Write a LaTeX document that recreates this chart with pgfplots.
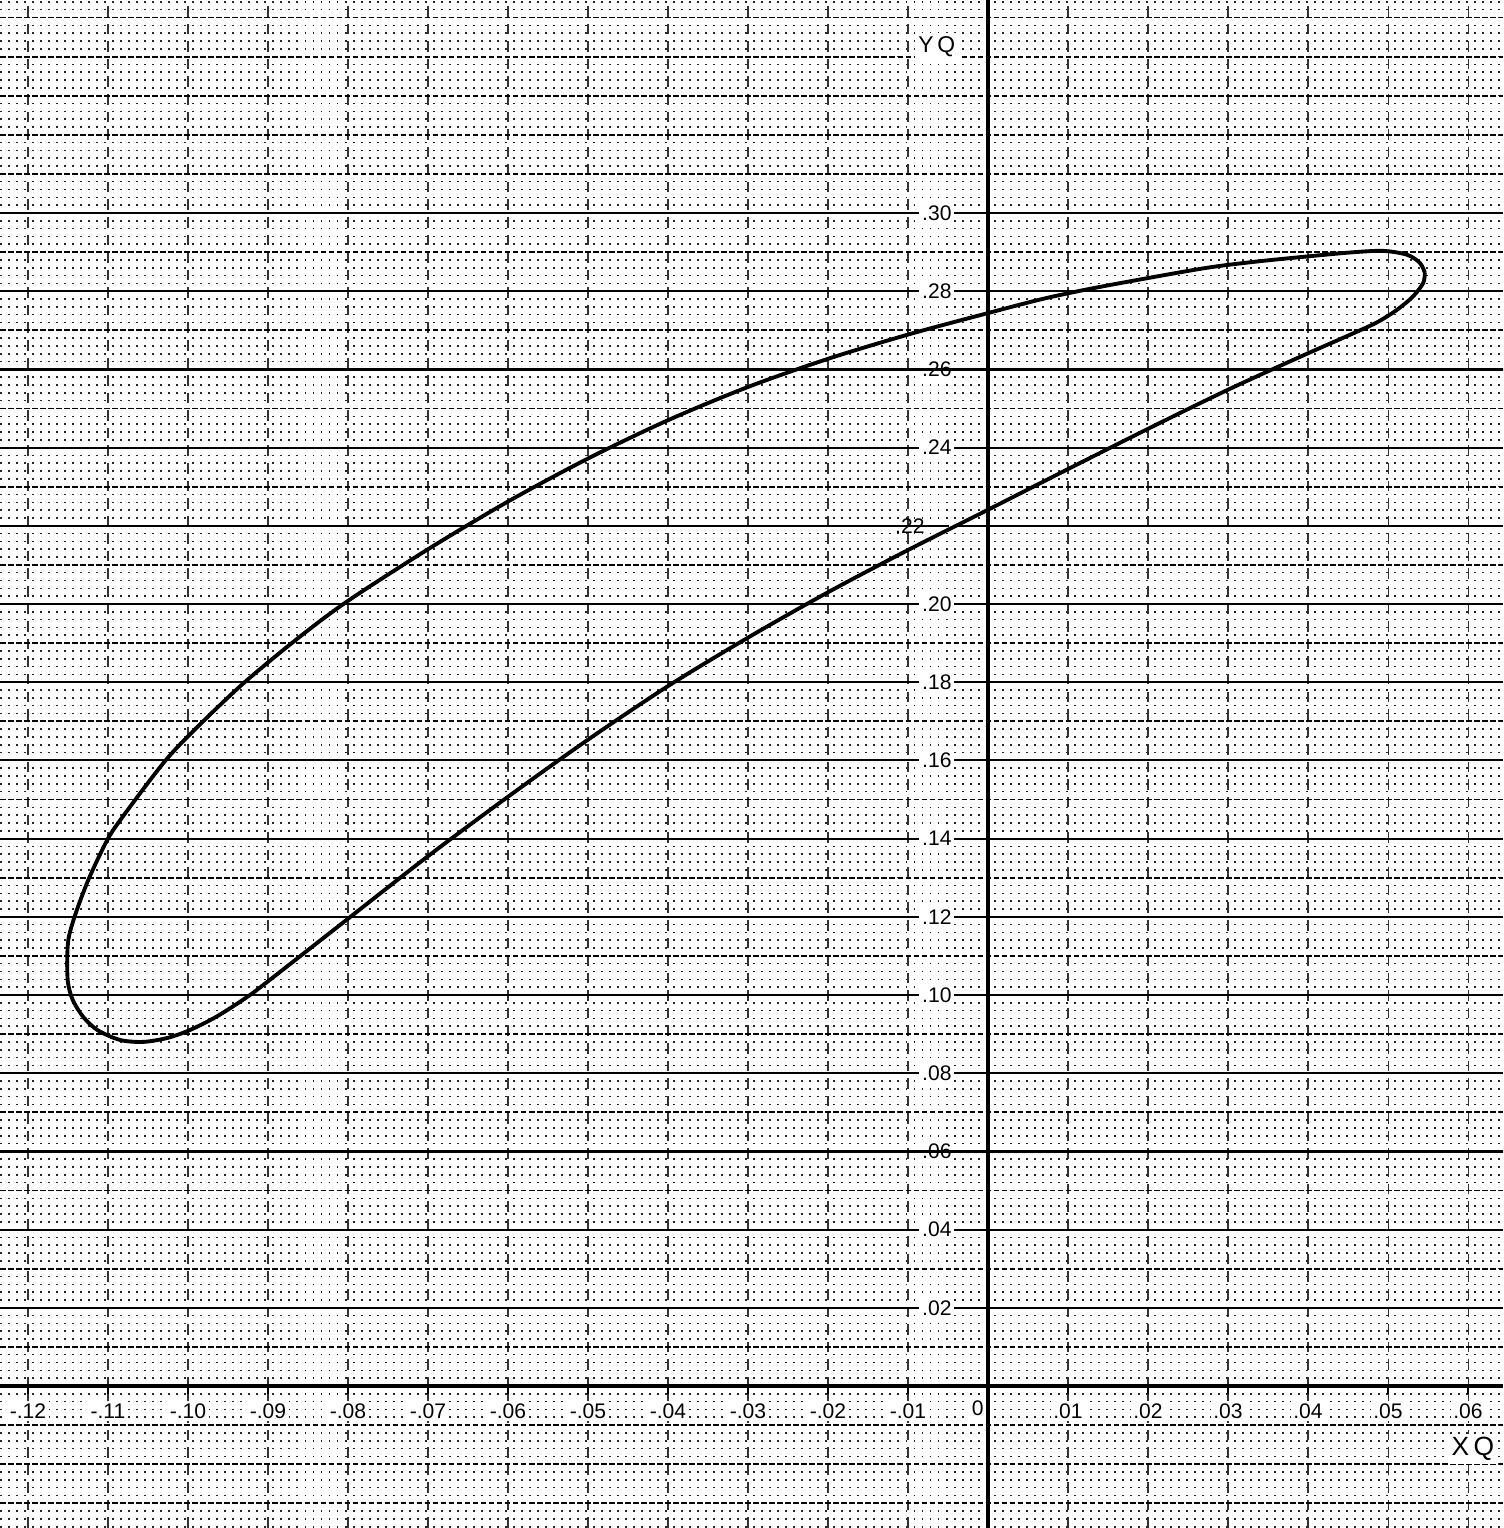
\documentclass[border=0pt]{standalone}
\usepackage{pgfplots}
\pgfplotsset{compat=1.18}
\usepackage{fontspec}
\setmainfont{Liberation Sans}
\begin{document}
\begin{tikzpicture}
\begin{axis}[
  scale only axis, width=150.3mm, height=152.8mm,
  at={(0,0)}, anchor=south west,
  xmin=-0.1235, xmax=0.064375, ymin=-0.03632, ymax=0.35448,
  axis lines=middle,
  axis line style={line width=0.9pt, -},
  xtick={-0.12,-0.11,-0.10,-0.09,-0.08,-0.07,-0.06,-0.05,-0.04,-0.03,-0.02,-0.01,0,0.01,0.02,0.03,0.04,0.05,0.06},
  xticklabels={-.12,-.11,-.10,-.09,-.08,-.07,-.06,-.05,-.04,-.03,-.02,-.01,0,.01,.02,.03,.04,.05,.06},
  ytick={0.02,0.04,0.06,0.08,0.10,0.12,0.14,0.16,0.18,0.20,0.22,0.24,0.26,0.28,0.30},
  yticklabels={.02,.04,.06,.08,.10,.12,.14,.16,.18,.20,\hbox to 0pt{\hss .22\kern 2.7mm},.24,.26,.28,.30},
  minor ytick={-0.036,-0.034,...,0.354},
  tick align=outside, major tick length=0.8mm, minor tick length=0pt,
  tick style={black, line width=0.6pt},
  grid=both,
  major x grid style={black!80, line width=0.3pt, dash pattern=on 3pt off 2pt},
  major y grid style={black, line width=0.55pt},
  minor y grid style={black!85, line width=0.45pt, dash pattern=on 0.55pt off 1.73pt},
  extra y ticks={-0.03,-0.02,-0.01,0.01,0.03,0.05,0.07,0.09,0.11,0.13,0.15,0.17,0.19,0.21,0.23,0.25,0.27,0.29,0.31,0.32,0.33,0.34,0.35},
  extra y tick labels={},
  extra y tick style={major tick length=0pt, grid=major, yticklabel style={fill=none}, major grid style={black!85, line width=0.45pt, dash pattern=on 1.6pt off 0.68pt}},
  ticklabel style={font=\fontsize{6}{7}\selectfont, fill=white, inner sep=0.8pt},
  xticklabel style={anchor=north, yshift=-0.6mm},
  yticklabel style={anchor=east, xshift=-2.5mm},
]
\addplot[black, line width=1pt, forget plot] coordinates {(-0.13,0.26) (0.07,0.26)};
\addplot[black, line width=1pt, forget plot] coordinates {(-0.13,0.06) (0.07,0.06)};
\addplot[black, line width=1.1pt, smooth, tension=0.5] coordinates {
(0.0546,0.2847) (0.0540,0.2872) (0.0524,0.2893) (0.0494,0.2903) (0.0453,0.2899)
(0.0390,0.2887) (0.0328,0.2874) (0.0265,0.2857) (0.0140,0.2811) (0.0070,0.2781)
(0.0,0.2744) (-0.01,0.2689) (-0.02,0.2627) (-0.03,0.2555) (-0.04,0.2470)
(-0.05,0.2372) (-0.06,0.2262) (-0.07,0.2140) (-0.08,0.2008) (-0.0861,0.1915)
(-0.0928,0.1802) (-0.0983,0.1696) (-0.1028,0.1600) (-0.1083,0.1452) (-0.1101,0.1396)
(-0.1123,0.1302) (-0.1139,0.1217) (-0.1149,0.1148) (-0.1151,0.1090) (-0.1150,0.1031)
(-0.1144,0.0987) (-0.1131,0.0944) (-0.1113,0.0910) (-0.1085,0.0885) (-0.1056,0.0880)
(-0.1026,0.0890) (-0.0998,0.0910) (-0.0964,0.0945) (-0.0926,0.0995) (-0.09,0.1035)
(-0.08,0.1195) (-0.07,0.1355) (-0.06,0.1507) (-0.05,0.1653) (-0.04,0.1790)
(-0.03,0.1914) (-0.02,0.2030) (-0.01,0.2138) (0,0.2241) (0.01,0.2345)
(0.02,0.2448) (0.03,0.2548) (0.039,0.2632) (0.0453,0.2689) (0.0486,0.2720)
(0.0511,0.2752) (0.0531,0.2786) (0.0544,0.2821) (0.0546,0.2847)
};
\node[fill=white, inner sep=0.8pt, font=\fontsize{6}{7}\selectfont] at (axis cs:-0.0013,-0.0058) {0};
\node[fill=white, inner sep=1pt, font=\fontsize{6.5}{7}\selectfont] at (axis cs:-0.0064,0.3425) {Y\,Q};
\node[fill=white, inner sep=1pt, font=\fontsize{7.5}{8}\selectfont] at (axis cs:0.0606,-0.0161) {X\,Q};
\end{axis}
\pgfresetboundingbox
\path (0,0) rectangle (150.3mm,152.8mm);
\end{tikzpicture}
\end{document}
